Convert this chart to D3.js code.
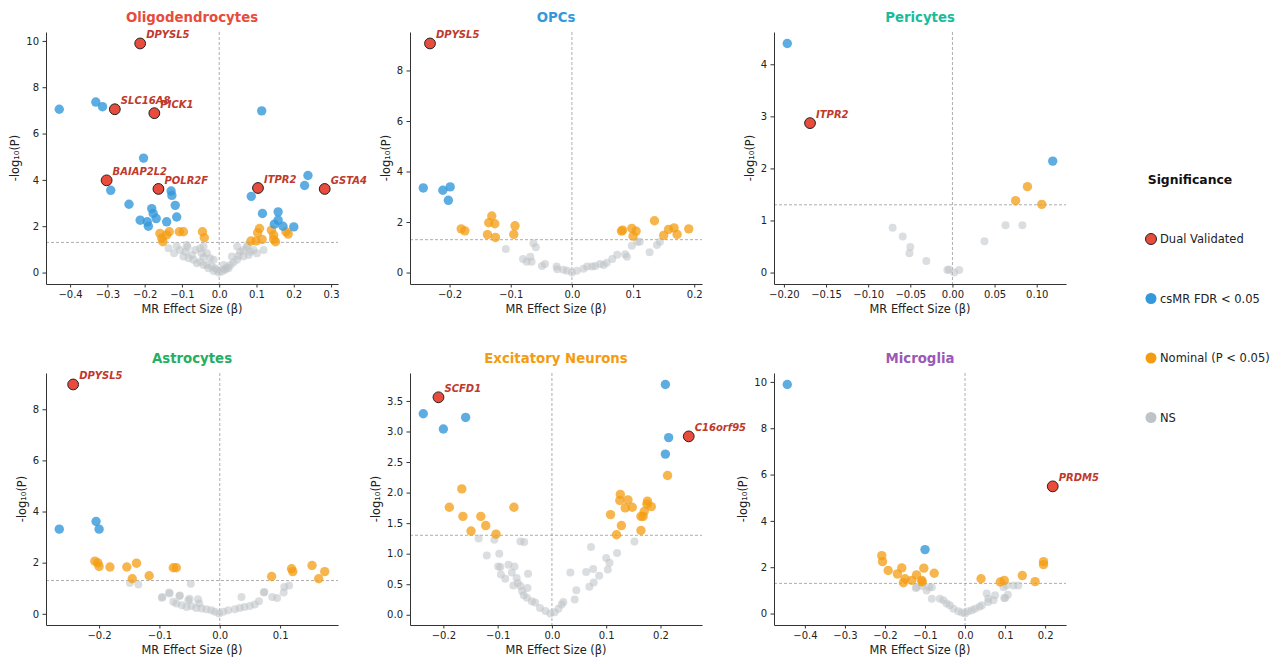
<!DOCTYPE html>
<html>
<head>
<meta charset="utf-8">
<script src="https://cdn.jsdelivr.net/npm/d3@7"></script>
<style>
  body { margin: 0; background: #fff; }
  text { font-family: "DejaVu Sans", sans-serif; }
</style>
</head>
<body>
<div id="chart-area"></div>
<script>
/*
*    volcano panels - csMR results per cell type
*/
var cellTypes = ["Oligodendrocytes", "OPCs", "Pericytes", "Astrocytes", "Excitatory Neurons", "Microglia"];
var legendLabels = ["Dual Validated", "csMR FDR < 0.05", "Nominal (P < 0.05)", "NS"];

// [beta, -log10 P]
var oligoDual = [
  { gene: "DPYSL5", beta: -0.212, logp: 9.89 },
  { gene: "SLC16A8", beta: -0.280, logp: 7.05 },
  { gene: "PICK1", beta: -0.174, logp: 6.88 },
  { gene: "BAIAP2L2", beta: -0.302, logp: 3.98 },
  { gene: "POLR2F", beta: -0.163, logp: 3.61 },
  { gene: "ITPR2", beta: 0.104, logp: 3.65 },
  { gene: "GSTA4", beta: 0.283, logp: 3.61 }
];
var oligoFdr = [[-0.429, 7.05], [-0.331, 7.36], [-0.313, 7.16], [0.114, 6.98], [-0.203, 4.94], [-0.291, 3.55],
  [-0.242, 2.95], [-0.212, 2.26], [-0.193, 2.19], [-0.190, 2.00], [-0.181, 2.76], [-0.177, 2.55], [-0.169, 2.33],
  [-0.141, 2.19], [-0.129, 3.52], [-0.127, 3.33], [-0.118, 2.90], [-0.114, 2.40], [0.086, 3.29], [0.116, 2.55],
  [0.158, 2.62], [0.158, 2.26], [0.148, 2.09], [0.171, 2.00], [0.200, 1.97], [0.229, 3.76], [0.238, 4.19]];
var oligoNominal = [[-0.159, 1.69], [-0.154, 1.48], [-0.151, 1.33], [-0.134, 1.76], [-0.141, 1.62], [-0.107, 1.76],
  [-0.096, 1.76], [-0.045, 1.76], [-0.040, 1.50], [0.108, 1.90], [0.103, 1.72], [0.085, 1.36], [0.099, 1.36],
  [0.115, 1.43], [0.140, 1.83], [0.146, 1.62], [0.146, 1.43], [0.151, 1.33], [0.179, 1.76], [0.185, 1.66]];
var oligoNs = [[-0.136, 1.05], [-0.114, 1.15], [-0.105, 0.97], [-0.091, 0.90], [-0.085, 1.09], [-0.073, 0.76],
  [-0.064, 0.97], [-0.051, 1.05], [-0.047, 0.83], [-0.042, 0.66], [-0.033, 0.83], [-0.024, 0.62], [-0.015, 0.55],
  [-0.051, 0.47], [-0.060, 0.40], [-0.033, 0.33], [-0.020, 0.26], [-0.011, 0.19], [-0.006, 0.12], [-0.002, 0.00],
  [0.007, 0.04], [0.013, 0.14], [0.021, 0.23], [0.030, 0.33], [0.038, 0.43], [0.048, 0.55], [0.052, 0.72],
  [0.056, 0.90], [0.065, 0.97], [0.074, 1.09], [0.083, 0.90], [0.092, 0.97], [0.101, 0.83], [0.119, 0.97],
  [0.048, 1.12], [0.034, 0.69], [0.012, 0.33], [-0.082, 0.62], [-0.096, 0.69], [-0.121, 0.83], [-0.069, 0.55],
  [-0.042, 0.33], [-0.029, 0.19], [-0.015, 0.07], [0.016, 0.12], [0.025, 0.19], [0.065, 0.69], [0.079, 0.76],
  [-0.087, 1.19], [-0.042, 1.12], [0.076, 1.19]];

var opcDual = [{ gene: "DPYSL5", beta: -0.232, logp: 9.07 }];
var opcFdr = [[-0.243, 3.35], [-0.211, 3.26], [-0.199, 3.39], [-0.202, 2.86]];
var opcNominal = [[-0.181, 1.73], [-0.175, 1.65], [-0.131, 2.24], [-0.136, 1.97], [-0.126, 1.93], [-0.138, 1.50],
  [-0.125, 1.39], [-0.093, 1.85], [-0.095, 1.51], [0.081, 1.64], [0.083, 1.68], [0.098, 1.75], [0.105, 1.64],
  [0.100, 1.44], [0.135, 2.05], [0.150, 1.47], [0.158, 1.71], [0.167, 1.77], [0.172, 1.51], [0.191, 1.73]];
var opcNs = [[-0.108, 0.93], [-0.063, 1.16], [-0.059, 1.00], [-0.080, 0.54], [-0.074, 0.43], [-0.068, 0.63],
  [-0.066, 0.43], [-0.049, 0.26], [-0.044, 0.34], [-0.025, 0.24], [-0.024, 0.13], [-0.014, 0.11], [-0.008, 0.07],
  [0.000, 0.00], [0.008, 0.07], [0.019, 0.15], [0.025, 0.24], [0.033, 0.24], [0.038, 0.26], [0.046, 0.34],
  [0.052, 0.30], [0.057, 0.39], [0.066, 0.54], [0.074, 0.70], [0.087, 0.72], [0.090, 0.63], [0.098, 1.06],
  [0.107, 1.22], [0.111, 1.22], [0.127, 0.80], [0.139, 1.09], [0.144, 1.22]];

var periDual = [{ gene: "ITPR2", beta: -0.169, logp: 2.87 }];
var periFdr = [[-0.196, 4.40], [0.119, 2.14]];
var periNominal = [[0.089, 1.65], [0.075, 1.38], [0.106, 1.31]];
var periNs = [[-0.071, 0.86], [-0.059, 0.69], [-0.050, 0.49], [-0.051, 0.37], [-0.031, 0.22], [-0.006, 0.05],
  [-0.004, 0.06], [0.002, 0.00], [0.008, 0.05], [0.038, 0.60], [0.063, 0.91], [0.083, 0.91]];

var astroDual = [{ gene: "DPYSL5", beta: -0.243, logp: 8.97 }];
var astroFdr = [[-0.266, 3.31], [-0.205, 3.61], [-0.200, 3.31]];
var astroNominal = [[-0.207, 2.06], [-0.202, 1.99], [-0.200, 1.85], [-0.182, 1.83], [-0.154, 1.83], [-0.138, 1.98],
  [-0.145, 1.37], [-0.117, 1.49], [-0.077, 1.80], [-0.072, 1.80], [0.086, 1.46], [0.119, 1.76], [0.121, 1.65],
  [0.153, 1.89], [0.164, 1.37], [0.174, 1.65]];
var astroNs = [[-0.149, 1.20], [-0.135, 1.15], [-0.048, 1.18], [-0.096, 0.63], [-0.084, 0.83], [-0.077, 0.47],
  [-0.067, 0.70], [-0.052, 0.53], [-0.050, 0.59], [-0.036, 0.57], [-0.034, 0.40], [-0.072, 0.40], [-0.063, 0.33],
  [-0.055, 0.27], [-0.047, 0.31], [-0.039, 0.23], [-0.030, 0.21], [-0.022, 0.18], [-0.014, 0.14], [-0.008, 0.08],
  [-0.001, 0.01], [0.006, 0.08], [0.014, 0.14], [0.025, 0.18], [0.033, 0.23], [0.041, 0.27], [0.050, 0.31],
  [0.058, 0.36], [0.065, 0.49], [0.073, 0.83], [0.036, 0.66], [0.087, 0.66], [0.095, 0.62], [0.106, 0.83],
  [0.107, 1.05], [0.115, 1.11], [-0.095, 0.66], [-0.083, 0.79], [-0.066, 0.72], [0.074, 0.85]];

var enDual = [{ gene: "SCFD1", beta: -0.209, logp: 3.56 }, { gene: "C16orf95", beta: 0.252, logp: 2.92 }];
var enFdr = [[-0.237, 3.29], [-0.200, 3.04], [-0.159, 3.23], [0.209, 3.77], [0.215, 2.90], [0.209, 2.63]];
var enNominal = [[-0.189, 1.76], [-0.166, 2.06], [-0.164, 1.61], [-0.149, 1.37], [-0.131, 1.61], [-0.122, 1.46],
  [-0.103, 1.32], [-0.070, 1.76], [0.108, 1.64], [0.126, 1.97], [0.125, 1.87], [0.140, 1.88], [0.135, 1.75],
  [0.148, 1.76], [0.128, 1.46], [0.119, 1.31], [0.176, 1.86], [0.175, 1.81], [0.183, 1.77], [0.170, 1.69],
  [0.164, 1.61], [0.168, 1.61], [0.164, 1.38], [0.213, 2.28]];
var enNs = [[-0.135, 1.25], [-0.106, 1.23], [-0.058, 1.20], [-0.051, 1.19], [-0.120, 0.97], [-0.097, 1.00],
  [-0.099, 0.79], [-0.095, 0.78], [-0.094, 0.66], [-0.086, 0.59], [-0.080, 0.82], [-0.069, 0.79], [-0.074, 0.69],
  [-0.071, 0.48], [-0.065, 0.60], [-0.063, 0.52], [-0.058, 0.47], [-0.055, 0.39], [-0.044, 0.67], [-0.045, 0.44],
  [-0.052, 0.32], [-0.046, 0.28], [-0.037, 0.22], [-0.031, 0.20], [-0.022, 0.11], [-0.012, 0.06], [-0.003, 0.02],
  [0.005, 0.04], [0.012, 0.10], [0.018, 0.17], [0.021, 0.21], [0.034, 0.69], [0.045, 0.40], [0.042, 0.25],
  [0.063, 0.70], [0.072, 1.11], [0.076, 0.75], [0.077, 0.53], [0.069, 0.46], [0.087, 0.64], [0.100, 0.93],
  [0.106, 0.85], [0.103, 0.74], [0.120, 1.01], [0.152, 1.20]];

var micDual = [{ gene: "PRDM5", beta: 0.219, logp: 5.49 }];
var micFdr = [[-0.444, 9.89], [-0.100, 2.76]];
var micNominal = [[-0.208, 2.50], [-0.206, 2.24], [-0.192, 1.86], [-0.169, 1.71], [-0.158, 1.97], [-0.150, 1.50],
  [-0.154, 1.33], [-0.133, 1.43], [-0.121, 1.67], [-0.108, 1.43], [-0.107, 1.36], [-0.103, 1.96], [-0.077, 1.74],
  [0.040, 1.50], [0.088, 1.36], [0.098, 1.43], [0.143, 1.64], [0.175, 1.38], [0.196, 2.24], [0.196, 2.11]];
var micNs = [[-0.123, 1.10], [-0.096, 1.00], [-0.083, 1.14], [-0.083, 0.64], [-0.063, 0.64], [-0.054, 0.57],
  [-0.046, 0.43], [-0.038, 0.36], [-0.029, 0.21], [-0.017, 0.10], [-0.008, 0.04], [0.000, 0.00], [0.008, 0.10],
  [0.017, 0.14], [0.025, 0.21], [0.036, 0.29], [0.042, 0.36], [0.054, 0.86], [0.058, 0.64], [0.058, 0.50],
  [0.071, 0.57], [0.075, 0.79], [0.100, 0.67], [0.104, 1.21], [0.121, 1.21], [0.133, 1.21], [-0.121, 1.14],
  [-0.108, 1.19], [-0.090, 1.14], [0.096, 1.13], [0.098, 0.67], [0.107, 0.81]];

var xTickStep = [0.1, 0.1, 0.05, 0.1, 0.1, 0.1];
var yTickStep = [2, 2, 1, 2, 0.5, 2];
var pThreshold = -Math.log10(0.05);

var colors = { dual: "#e74c3c", fdr: "#3498db", nominal: "#f39c12", ns: "#bdc3c7" };
var titleColors = ["#e74c3c", "#3498db", "#1abc9c", "#27ae60", "#f39c12", "#9b59b6"];

var width = 1282, height = 664;
var cols = [46, 410, 774], rows = [32, 373];
var pw = 292, ph = 252;

var svg = d3.select("#chart-area")
  .append("svg")
  .attr("width", width)
  .attr("height", height);

var panels = [
  { dual: oligoDual, fdr: oligoFdr, nominal: oligoNominal, ns: oligoNs, xFmt: ".1f", yFmt: "d" },
  { dual: opcDual, fdr: opcFdr, nominal: opcNominal, ns: opcNs, xFmt: ".1f", yFmt: "d" },
  { dual: periDual, fdr: periFdr, nominal: periNominal, ns: periNs, xFmt: ".2f", yFmt: "d" },
  { dual: astroDual, fdr: astroFdr, nominal: astroNominal, ns: astroNs, xFmt: ".1f", yFmt: "d" },
  { dual: enDual, fdr: enFdr, nominal: enNominal, ns: enNs, xFmt: ".1f", yFmt: ".1f" },
  { dual: micDual, fdr: micFdr, nominal: micNominal, ns: micNs, xFmt: ".1f", yFmt: "d" }
];

function stepTicks(domain, step) {
  var k0 = Math.ceil(domain[0] / step - 1e-9), k1 = Math.floor(domain[1] / step + 1e-9);
  return d3.range(k0, k1 + 1).map((k) => { return +(k * step).toFixed(6); });
}

panels.forEach((p, i) => {
  var left = cols[i % 3], top = rows[Math.floor(i / 3)];
  var all = p.ns.concat(p.nominal, p.fdr, p.dual.map((d) => { return [d.beta, d.logp]; }));

  var xMin = Math.min(0, d3.min(all, (d) => { return d[0]; }));
  var xMax = Math.max(0, d3.max(all, (d) => { return d[0]; }));
  var yMin = Math.min(pThreshold, d3.min(all, (d) => { return d[1]; }));
  var yMax = Math.max(pThreshold, d3.max(all, (d) => { return d[1]; }));
  var xm = (xMax - xMin) * 0.05, ym = (yMax - yMin) * 0.05;

  var x = d3.scaleLinear().domain([xMin - xm, xMax + xm]).range([left, left + pw]);
  var y = d3.scaleLinear().domain([yMin - ym, yMax + ym]).range([top + ph, top]);

  var g = svg.append("g");

  // reference lines
  g.append("line")
    .attr("x1", x(0)).attr("x2", x(0))
    .attr("y1", top).attr("y2", top + ph)
    .attr("stroke", "#999").attr("stroke-width", 0.8).attr("stroke-dasharray", "3,2");
  g.append("line")
    .attr("x1", left).attr("x2", left + pw)
    .attr("y1", y(pThreshold)).attr("y2", y(pThreshold))
    .attr("stroke", "#999").attr("stroke-width", 0.8).attr("stroke-dasharray", "3,2");

  g.selectAll(".ns").data(p.ns).enter().append("circle")
    .attr("cx", (d) => { return x(d[0]); })
    .attr("cy", (d) => { return y(d[1]); })
    .attr("r", 4)
    .attr("fill", colors.ns)
    .attr("fill-opacity", 0.55);

  g.selectAll(".nom").data(p.nominal).enter().append("circle")
    .attr("cx", (d) => { return x(d[0]); })
    .attr("cy", (d) => { return y(d[1]); })
    .attr("r", 4.7)
    .attr("fill", colors.nominal)
    .attr("fill-opacity", 0.75);

  g.selectAll(".fdr").data(p.fdr).enter().append("circle")
    .attr("cx", (d) => { return x(d[0]); })
    .attr("cy", (d) => { return y(d[1]); })
    .attr("r", 4.7)
    .attr("fill", colors.fdr)
    .attr("fill-opacity", 0.8);

  g.selectAll(".dual").data(p.dual).enter().append("circle")
    .attr("cx", (d) => { return x(d.beta); })
    .attr("cy", (d) => { return y(d.logp); })
    .attr("r", 5.4)
    .attr("fill", colors.dual)
    .attr("stroke", "#222")
    .attr("stroke-width", 1);

  g.selectAll(".gene").data(p.dual).enter().append("text")
    .attr("x", (d) => { return x(d.beta) + 6; })
    .attr("y", (d) => { return y(d.logp) - 5; })
    .attr("font-size", "10px")
    .attr("font-weight", "bold")
    .attr("font-style", "italic")
    .attr("fill", "#c0392b")
    .text((d) => { return d.gene; });

  // axes
  var bottomAxis = d3.axisBottom(x)
    .tickValues(stepTicks(x.domain(), xTickStep[i]))
    .tickFormat(d3.format(p.xFmt))
    .tickSizeOuter(0).tickSizeInner(3.5).tickPadding(3.5);
  var leftAxis = d3.axisLeft(y)
    .tickValues(stepTicks(y.domain(), yTickStep[i]))
    .tickFormat(d3.format(p.yFmt))
    .tickSizeOuter(0).tickSizeInner(3.5).tickPadding(3.5);

  var xg = g.append("g").attr("transform", "translate(0," + (top + ph) + ")").call(bottomAxis);
  var yg = g.append("g").attr("transform", "translate(" + left + ",0)").call(leftAxis);
  [xg, yg].forEach((ag) => {
    ag.select(".domain").attr("stroke", "#333").attr("stroke-width", 1);
    ag.selectAll(".tick line").attr("stroke", "#333");
    ag.selectAll(".tick text").attr("fill", "#222").attr("font-size", "10px")
      .attr("font-family", "DejaVu Sans, sans-serif");
  });

  var tickLeft = d3.min(yg.selectAll(".tick text").nodes(), (n) => {
    var b = n.getBBox();
    return left + b.x;
  });

  g.append("text")
    .attr("x", left + pw / 2)
    .attr("y", top + ph + 29)
    .attr("text-anchor", "middle")
    .attr("font-size", "11.4px")
    .attr("fill", "#222")
    .text("MR Effect Size (β)");

  var lx = tickLeft - 7;
  g.append("text")
    .attr("transform", "translate(" + lx + "," + (top + ph / 2) + ") rotate(-90)")
    .attr("text-anchor", "middle")
    .attr("font-size", "11.4px")
    .attr("fill", "#222")
    .text("-log₁₀(P)");

  g.append("text")
    .attr("x", left + pw / 2)
    .attr("y", top - 10)
    .attr("text-anchor", "middle")
    .attr("font-size", "13.3px")
    .attr("font-weight", "bold")
    .attr("fill", titleColors[i])
    .text(cellTypes[i]);
});

// legend
var legend = svg.append("g");
legend.append("text")
  .attr("x", 1190).attr("y", 184)
  .attr("text-anchor", "middle")
  .attr("font-size", "12.4px")
  .attr("font-weight", "bold")
  .attr("fill", "#111")
  .text("Significance");

var legendFill = [colors.dual, colors.fdr, colors.nominal, colors.ns];
legendLabels.forEach((lab, k) => {
  var ly = 239 + k * 59.5;
  legend.append("circle")
    .attr("cx", 1151).attr("cy", ly).attr("r", 5.5)
    .attr("fill", legendFill[k])
    .attr("stroke", k == 0 ? "#222" : "none")
    .attr("stroke-width", 1);
  legend.append("text")
    .attr("x", 1160).attr("y", ly + 4)
    .attr("font-size", "11.5px")
    .attr("fill", "#222")
    .text(lab);
});
</script>
</body>
</html>
